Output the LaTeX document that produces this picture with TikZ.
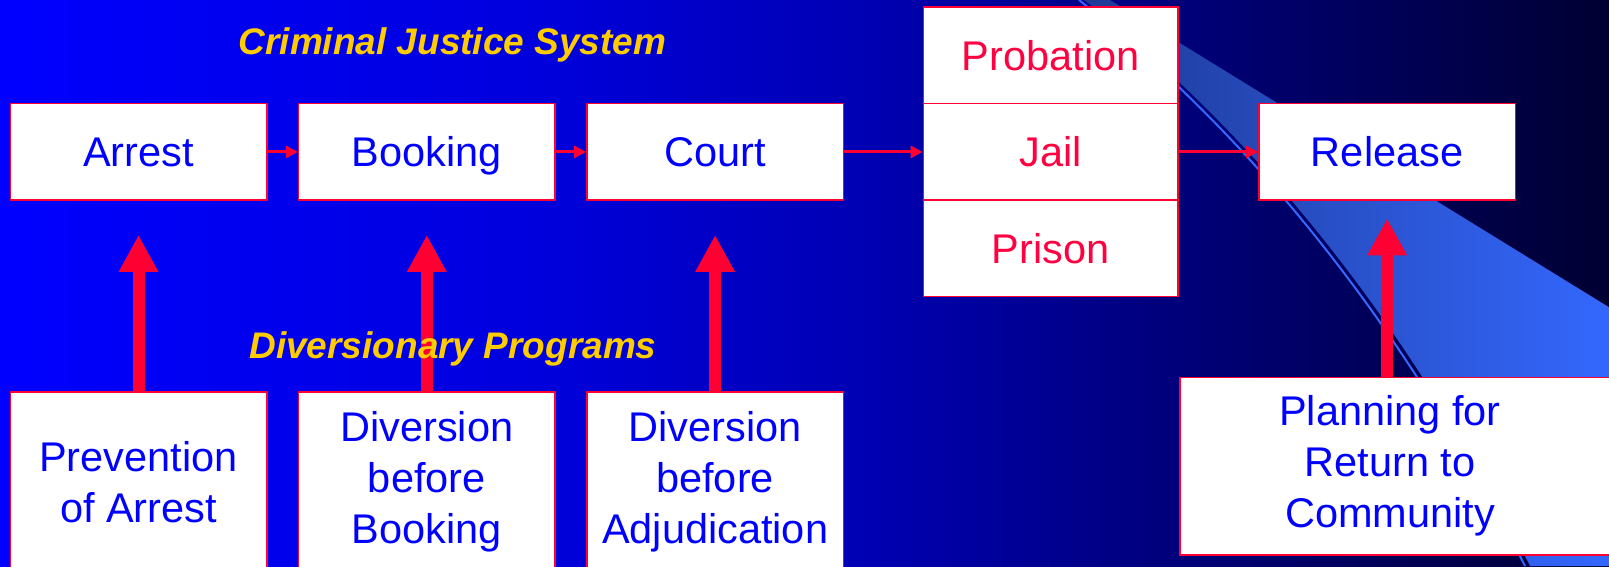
\documentclass[tikz,border=0pt]{standalone}
\usepackage{fontspec}
\setmainfont{Liberation Sans}
\usepackage{tikz}
\usetikzlibrary{positioning,arrows.meta}
\definecolor{edgered}{HTML}{FF0033}
\definecolor{textblue}{HTML}{0000FF}
\definecolor{textred}{HTML}{FF0040}
\definecolor{headgold}{HTML}{FFCC00}
\definecolor{ribbondark}{HTML}{1E3A96}
\definecolor{ribbonlight}{HTML}{3468FF}
\pgfdeclarehorizontalshading{slidebg}{100bp}{rgb(0bp)=(0,0,1); rgb(25bp)=(0,0,1); rgb(41.8bp)=(0,0,0.863); rgb(51.7bp)=(0,0,0.706); rgb(59.2bp)=(0,0,0.529); rgb(68.5bp)=(0,0,0.333); rgb(75bp)=(0,0,0.196); rgb(100bp)=(0,0,0.196)}

\begin{document}
\begin{tikzpicture}[x=1pt, y=-1pt,
      box/.style={
        draw=edgered, line width=1.5pt,
        fill=white,
        inner sep=0pt,
        minimum width=256.5pt,
        minimum height=96.5pt,
        align=center,
        text=textblue,
        font=\fontsize{41.5pt}{51pt}\selectfont
      },
      onerow/.style={box, text height=29.7pt, text depth=0pt},
      stackbox/.style={onerow, minimum width=254.5pt, text=textred},
      lowbox/.style={box, minimum height=180pt},
      heading/.style={text=headgold, anchor=base, font=\fontsize{37pt}{44pt}\selectfont\bfseries\itshape},
      flow/.style={draw=edgered, line width=3pt, -{Triangle[length=12pt, width=12pt]}},
      lift/.style={draw=edgered, line width=12pt, -{Triangle[length=37pt, width=37pt]}},
      node distance=30.3pt
    ]
      \useasboundingbox (0,0) rectangle (1609,566);
      \clip (0,0) rectangle (1609,566);
      \shade[shading=slidebg] (0,0) rectangle (1609,566);
      \shade[left color=ribbondark, right color=ribbonlight]
        (1084,0) .. controls (1262,140) and (1412,330) .. (1530,566)
        -- (1620,566) -- (1620,314) -- (1110,0) -- cycle;
      \draw[ribbonlight, line width=2pt]
        (1079,0) .. controls (1257,141) and (1407,331) .. (1525,566);

      \node[onerow] (arrest) at (138.5,151.9) {Arrest};
      \node[onerow, right=of arrest] (booking) {Booking};
      \node[onerow, right=of booking] (court) {Court};
      \node[stackbox, right=78.5pt of court] (jail) {Jail};
      \node[stackbox, above=-1.5pt of jail] (probation) {Probation};
      \node[stackbox, below=-1.5pt of jail] (prison) {Prison};
      \node[onerow, right=79.5pt of jail] (release) {Release};

      \node[lowbox, below=190.5pt of arrest] (prevention) {Prevention\\of Arrest};
      \node[lowbox, below=190.5pt of booking] (prebooking) {Diversion\\before\\Booking};
      \node[lowbox, below=190.5pt of court] (precourt) {Diversion\\before\\Adjudication};
      \node[box, anchor=north west, minimum width=461pt, minimum height=177.4pt] (planbox) at (1179,376.6) {};
      \node[text=textblue, align=center, font=\fontsize{41.5pt}{51pt}\selectfont] (planlabel) at (1390,465.3) {Planning for\\Return to\\Community};

      \draw[flow] (arrest) -- (booking);
      \draw[flow] (booking) -- (court);
      \draw[flow] (court) -- (jail);
      \draw[flow] (jail) -- (release);

      \draw[lift] (prevention.north) -- ([yshift=-34pt]arrest.south);
      \draw[lift] (prebooking.north) -- ([yshift=-34pt]booking.south);
      \draw[lift] (precourt.north) -- ([yshift=-34pt]court.south);
      \draw[lift] (release.south |- planbox.north) -- ([yshift=-17.5pt]release.south);

      \node[heading] (cjs) at (452.5,54.4) {Criminal Justice System};
      \node[heading] (dp) at (453,358) {Diversionary Programs};
    \end{tikzpicture}
\end{document}
